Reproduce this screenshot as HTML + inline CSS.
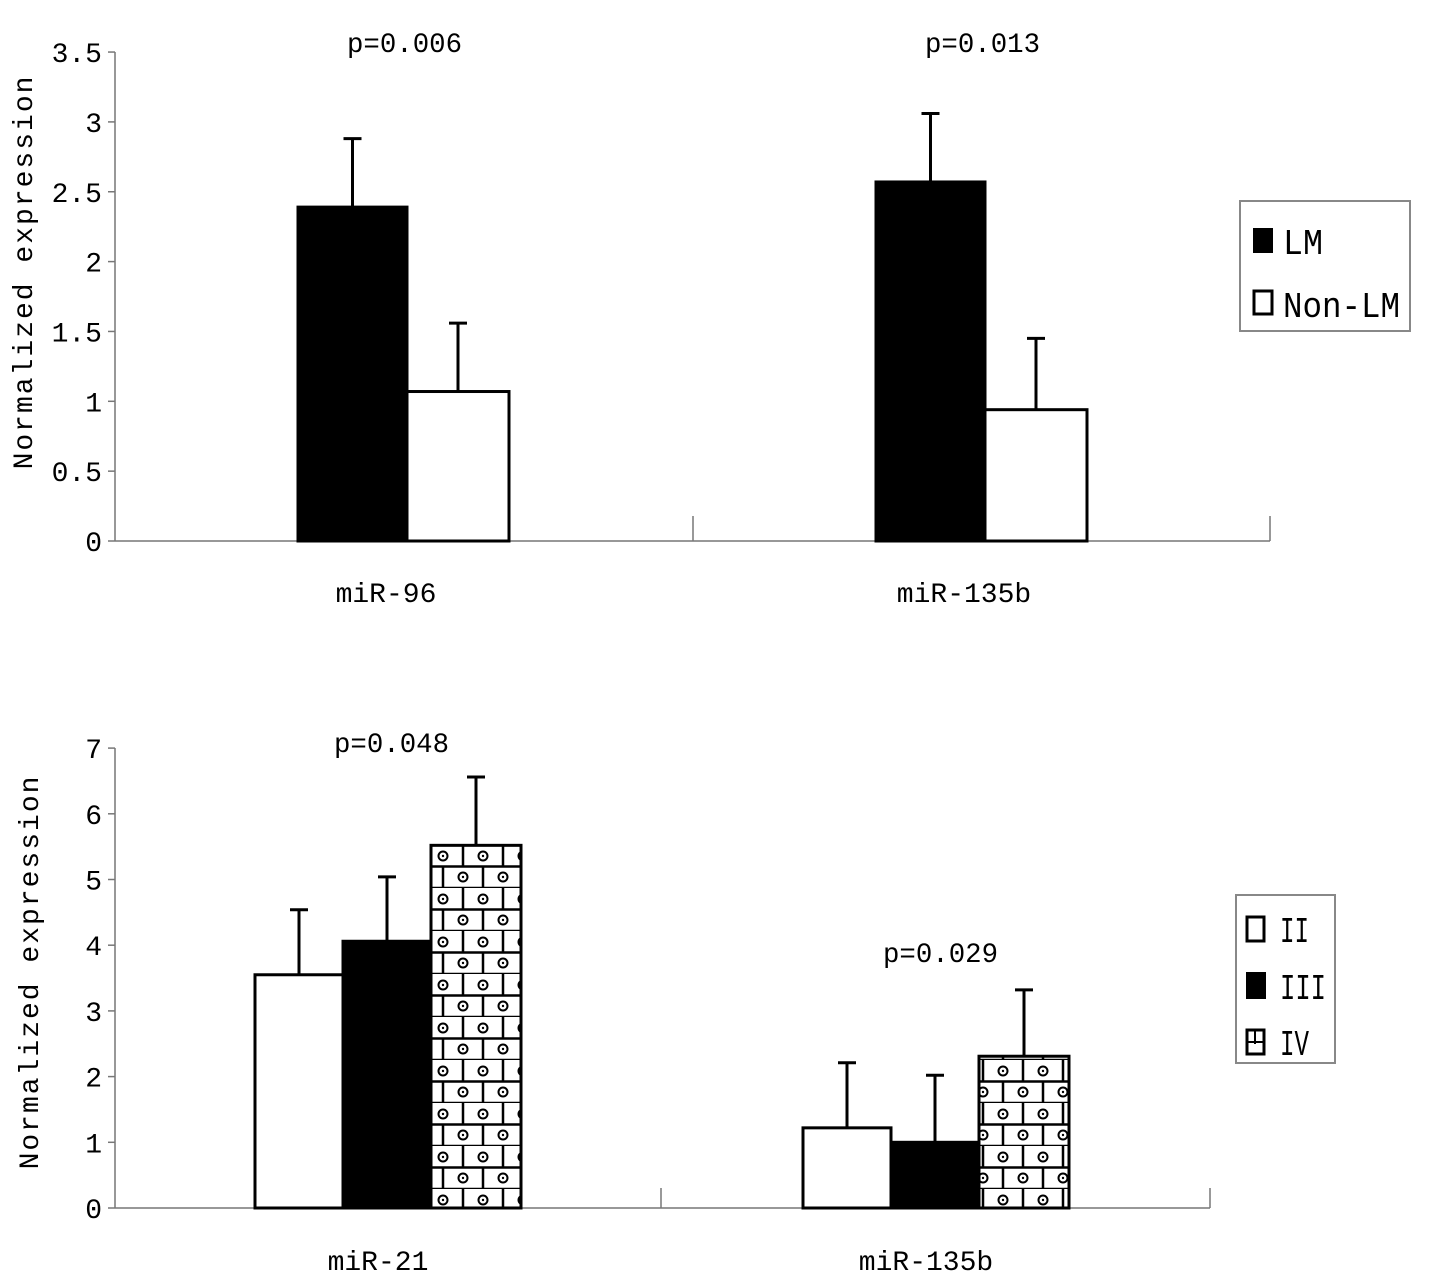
<!DOCTYPE html>
<html><head><meta charset="utf-8"><style>
body{margin:0;background:#fff}
svg text{font-family:"Liberation Mono","DejaVu Sans Mono",monospace;fill:#000}
</style></head><body>
<svg id="c" width="1429" height="1277" xmlns="http://www.w3.org/2000/svg">
<defs>
<pattern id="brick" patternUnits="userSpaceOnUse" x="423" y="845" width="40" height="43">
<rect width="40" height="43" fill="#fff"/>
<path d="M0 21.5H40M0 43H40M0 0V21.5M20 21.5V43M40 0V21.5" stroke="#000" stroke-width="2.5" fill="none"/>
<circle cx="20" cy="11" r="4.5" fill="none" stroke="#000" stroke-width="2"/><circle cx="20" cy="11" r="1.2" fill="#000"/>
<circle cx="0" cy="32" r="4.5" fill="none" stroke="#000" stroke-width="2"/><circle cx="0" cy="32" r="1.2" fill="#000"/>
<circle cx="40" cy="32" r="4.5" fill="none" stroke="#000" stroke-width="2"/><circle cx="40" cy="32" r="1.2" fill="#000"/>
</pattern>
</defs>
</svg>
<script>
const topCats=["miR-96","miR-135b"];
const topLM=[2.39,2.57];
const topLMerr=[0.49,0.49];
const topNon=[1.07,0.94];
const topNonErr=[0.49,0.51];
const topTicks=["0","0.5","1","1.5","2","2.5","3","3.5"];
const topP=["p=0.006","p=0.013"];
const botCats=["miR-21","miR-135b"];
const botII=[3.55,1.22];
const botIIerr=[0.99,0.99];
const botIII=[4.06,1.0];
const botIIIerr=[0.98,1.02];
const botIV=[5.52,2.31];
const botIVerr=[1.04,1.01];
const botTicks=["0","1","2","3","4","5","6","7"];
const botP=["p=0.048","p=0.029"];

const svg=document.getElementById('c');
const NS="http://www.w3.org/2000/svg";
function el(t,a,name,txt){const e=document.createElementNS(NS,t);for(const k in a)e.setAttribute(k,a[k]);


if(txt!==undefined)e.textContent=txt;svg.appendChild(e);return e;}
function line(x1,y1,x2,y2,n,w){return el('line',{x1,y1,x2,y2,stroke:w?'#000':'#777','stroke-width':w||1.5},n);}

// top chart
const tY=v=>541-v*139.7;
line(115,52,115,541,'y-axis-top');line(115,541,1270,541,'x-axis-top');
line(693,541,693,516,'x-tick-top');line(1270,541,1270,516,'x-tick-top');
topTicks.forEach((t,i)=>{const v=i*0.5;line(108,tY(v),115,tY(v),'y-tick-top');
el('text',{x:102,y:tY(v)+10,'font-size':28,'text-anchor':'end'},'y-tick-label-top',t);});
el('text',{x:0,y:0,'font-size':28,transform:'translate(32,272) rotate(-90)','text-anchor':'middle','font-family':'Liberation Sans,sans-serif','letter-spacing':'2'},'y-axis-title-top','Normalized expression');
const tCenters=[404,982];
topCats.forEach((c,i)=>{const cx=tCenters[i];
const bx=[cx-106,cx+3];
[[topLM,topLMerr,'#000','bar-lm'],[topNon,topNonErr,'#fff','bar-non-lm']].forEach((s,j)=>{
const x=bx[j],w=j?102:109,v=s[0][i],e=s[1][i];
line(x+w/2,tY(v+e),x+w/2,tY(v),'error-bar',3);line(x+w/2-9,tY(v+e),x+w/2+9,tY(v+e),'error-cap',3);
el('rect',{x,y:tY(v),width:w,height:tY(0)-tY(v),fill:s[2],stroke:'#000','stroke-width':3},s[3]);});
el('text',{x:cx-18,y:602,'font-size':28,'text-anchor':'middle'},'x-label-top',c);
el('text',{x:cx-57,y:52,'font-size':28,textLength:115,lengthAdjust:'spacingAndGlyphs'},'p-value-top',topP[i]);});
el('rect',{x:1240,y:201,width:170,height:130,fill:'#fff',stroke:'#888','stroke-width':2},'legend-top');
el('rect',{x:1253,y:228,width:20,height:25,fill:'#000'},'legend-swatch-lm');
el('text',{x:1283,y:254,'font-size':36,'font-family':'Liberation Serif,serif',textLength:40,lengthAdjust:'spacingAndGlyphs'},'legend-label-lm','LM');
el('rect',{x:1254,y:291,width:18,height:23,fill:'#fff',stroke:'#000','stroke-width':3},'legend-swatch-non-lm');
el('text',{x:1283,y:317,'font-size':36,'font-family':'Liberation Serif,serif',textLength:117,lengthAdjust:'spacingAndGlyphs'},'legend-label-non-lm','Non-LM');

// bottom chart
const bY=v=>1208-v*65.7;
line(115,748,115,1208,'y-axis-bottom');line(115,1208,1210,1208,'x-axis-bottom');
line(661,1208,661,1188,'x-tick-bottom');line(1210,1208,1210,1188,'x-tick-bottom');
botTicks.forEach((t,i)=>{line(108,bY(i),115,bY(i),'y-tick-bottom');
el('text',{x:102,y:bY(i)+10,'font-size':28,'text-anchor':'end'},'y-tick-label-bottom',t);});
el('text',{x:0,y:0,'font-size':28,transform:'translate(38,972) rotate(-90)','text-anchor':'middle','font-family':'Liberation Sans,sans-serif','letter-spacing':'2'},'y-axis-title-bottom','Normalized expression');
const bStart=[255,803];
botCats.forEach((c,i)=>{const x0=bStart[i];
[[botII,botIIerr,'#fff','bar-ii'],[botIII,botIIIerr,'#000','bar-iii'],[botIV,botIVerr,'url(#brick)','bar-iv']].forEach((s,j)=>{
const x=x0+j*88,w=j==2?90:88,v=s[0][i],e=s[1][i];
line(x+w/2,bY(v+e),x+w/2,bY(v),'error-bar',3);line(x+w/2-9,bY(v+e),x+w/2+9,bY(v+e),'error-cap',3);
el('rect',{x,y:bY(v),width:w,height:bY(0)-bY(v),fill:s[2],stroke:'#000','stroke-width':3},s[3]);});
el('text',{x:x0+123,y:1270,'font-size':28,'text-anchor':'middle'},'x-label-bottom',c);});
el('text',{x:334,y:752,'font-size':28,textLength:115,lengthAdjust:'spacingAndGlyphs'},'p-value-bottom',botP[0]);
el('text',{x:883,y:962,'font-size':28,textLength:115,lengthAdjust:'spacingAndGlyphs'},'p-value-bottom',botP[1]);
el('rect',{x:1236,y:895,width:99,height:168,fill:'#fff',stroke:'#888','stroke-width':2},'legend-bottom');
el('rect',{x:1247,y:917,width:17,height:24,fill:'#fff',stroke:'#000','stroke-width':3},'legend-swatch-ii');
el('text',{x:1280,y:942,'font-size':36,'font-family':'Liberation Serif,serif',textLength:29,lengthAdjust:'spacingAndGlyphs'},'legend-label-ii','II');
el('rect',{x:1246,y:972,width:20,height:27,fill:'#000'},'legend-swatch-iii');
el('text',{x:1280,y:999,'font-size':36,'font-family':'Liberation Serif,serif',textLength:46,lengthAdjust:'spacingAndGlyphs'},'legend-label-iii','III');
el('rect',{x:1247,y:1030,width:17,height:24,fill:'#fff',stroke:'#000','stroke-width':3},'legend-swatch-iv');
line(1255,1030,1255,1044,'legend-swatch-iv-line',2);line(1247,1042,1264,1042,'legend-swatch-iv-line',2);
el('text',{x:1280,y:1055,'font-size':36,'font-family':'Liberation Serif,serif',textLength:29,lengthAdjust:'spacingAndGlyphs'},'legend-label-iv','IV');
</script>
</body></html>
